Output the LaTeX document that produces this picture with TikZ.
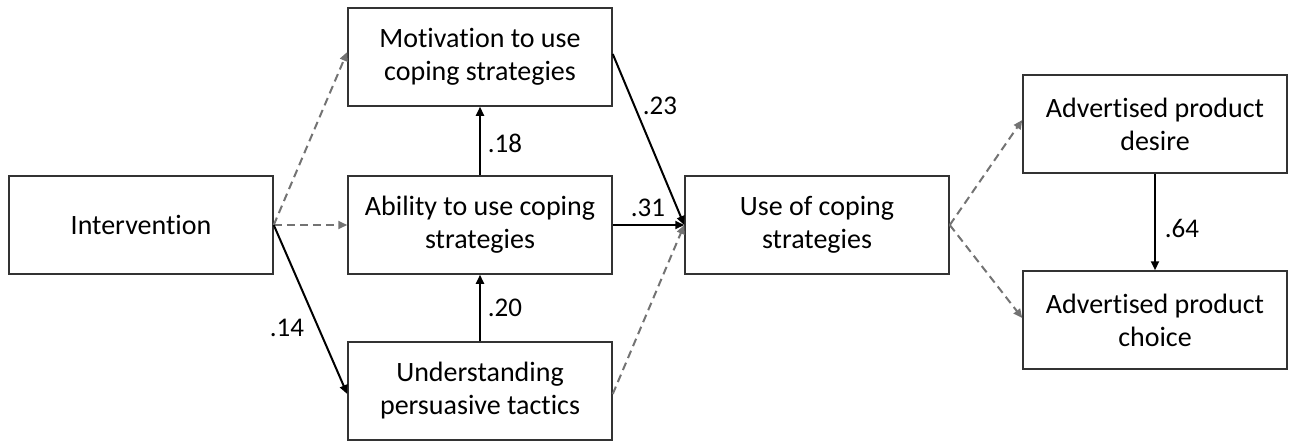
\documentclass[tikz,border=0pt]{standalone}
\usepackage{fontspec}
\setmainfont{Carlito}[Ligatures=NoCommon]
\usetikzlibrary{arrows.meta}
\tikzset{
	box/.style={draw=black!80, line width=1.5pt, minimum width=264pt, minimum height=98pt, align=center, font=\fontsize{28}{33}\selectfont, inner sep=0pt},
	solid arrow/.style={draw=black, line width=2pt, -{Triangle[length=9pt,width=8pt]}},
	dashed arrow/.style={draw=black!55, line width=2pt, dash pattern=on 8pt off 5pt, -{Triangle[length=9pt,width=8pt]}},
	coef/.style={font=\fontsize{27}{30}\selectfont}
}

\begin{document}
\begin{tikzpicture}[x=1pt, y=-1pt]
			%%%%% START %%%%%
			
			\useasboundingbox (0, 0) rectangle (1289, 444);
			
			\node[box] (inter) at (141, 225) {Intervention};
			\node[box] (motiv) at (480, 57) {Motivation to use\\coping strategies};
			\node[box] (ability) at (480, 225) {Ability to use coping\\strategies};
			\node[box] (underst) at (480, 391) {Understanding\\persuasive tactics};
			\node[box] (usecop) at (817, 225) {Use of coping\\strategies};
			\node[box] (desire) at (1155, 124) {Advertised product\\desire};
			\node[box] (choice) at (1155, 320) {Advertised product\\choice};
			
			\draw[dashed arrow] (inter.east) -- ([yshift=5pt]motiv.west);
			\draw[dashed arrow] (inter.east) -- (ability.west);
			\draw[solid arrow] (inter.east) -- ([yshift=-3pt]underst.west);
			
			\draw[solid arrow] (ability.north) -- (motiv.south);
			\draw[solid arrow] (underst.north) -- (ability.south);
			
			\draw[solid arrow] ([yshift=3pt]motiv.east) -- (usecop.west);
			\draw[solid arrow] (ability.east) -- (usecop.west);
			\draw[dashed arrow] ([yshift=-3pt]underst.east) -- (usecop.west);
			
			\draw[dashed arrow] (usecop.east) -- ([yshift=4pt]desire.west);
			\draw[dashed arrow] (usecop.east) -- ([yshift=2pt]choice.west);
			\draw[solid arrow] (desire.south) -- (choice.north);
			
			\node[coef] (c23) at (660, 106) {.23};
			\node[coef] (c18) at (505, 143) {.18};
			\node[coef] (c31) at (648, 208) {.31};
			\node[coef] (c14) at (287, 328) {.14};
			\node[coef] (c20) at (505, 308) {.20};
			\node[coef] (c64) at (1182, 228) {.64};
			
			%%%%% END %%%%%
		\end{tikzpicture}
\end{document}
